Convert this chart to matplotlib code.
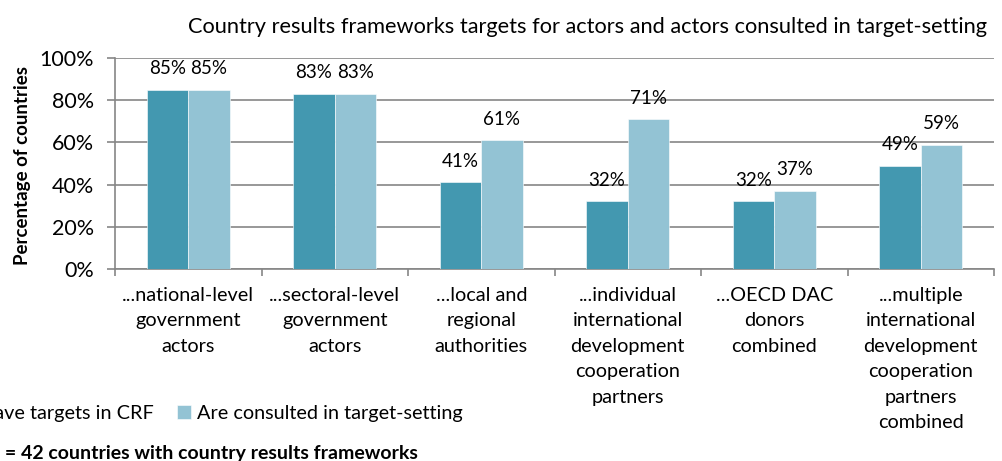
import numpy as np
import matplotlib
matplotlib.use("Agg")
import matplotlib.pyplot as plt
from matplotlib.ticker import FixedLocator, PercentFormatter

plt.rcParams['font.family'] = ['Lato', 'DejaVu Sans']

categories = [
    "...national-level\ngovernment\nactors",
    "...sectoral-level\ngovernment\nactors",
    "...local and\nregional\nauthorities",
    "...individual\ninternational\ndevelopment\ncooperation\npartners",
    "...OECD DAC\ndonors\ncombined",
    "...multiple\ninternational\ndevelopment\ncooperation\npartners\ncombined",
]
have_targets = [85, 83, 41, 32, 32, 49]
consulted = [85, 83, 61, 71, 37, 59]
series_names = ["Have targets in CRF", "Are consulted in target-setting"]

dark = "#4398b0"
light = "#93c3d4"
grey = "#868686"

fig = plt.figure(figsize=(10.02, 4.61), dpi=100)
ax = fig.add_axes([115 / 1002, 1 - 269 / 461, 879 / 1002, 211 / 461])

x = np.arange(len(categories))
w = 0.283
b1 = ax.bar(x - w / 2, have_targets, w, color=dark, edgecolor="white", linewidth=0.4,
            label=series_names[0], zorder=3)
b2 = ax.bar(x + w / 2, consulted, w, color=light, edgecolor="white", linewidth=0.4,
            label=series_names[1], zorder=3)

for bars, vals in ((b1, have_targets), (b2, consulted)):
    for r, v in zip(bars, vals):
        ax.annotate(f"{v}%", (r.get_x() + r.get_width() / 2, v), xytext=(0, 9),
                    textcoords="offset points", ha="center", va="bottom", fontsize=13.5)

ax.set_xlim(-0.5, len(categories) - 0.5)
ax.set_ylim(0, 100)
ax.yaxis.set_major_locator(FixedLocator([0, 20, 40, 60, 80, 100]))
ax.yaxis.set_major_formatter(PercentFormatter(decimals=0))
ax.grid(axis="y", color=grey, linewidth=1.2, zorder=0)
ax.set_axisbelow(True)

ax.set_xticks(x)
ax.set_xticklabels(categories, fontsize=14.3, linespacing=1.6)
ax.set_xticks(np.arange(-0.5, len(categories)), minor=True)
ax.tick_params(axis="x", which="major", length=0, pad=13)
ax.tick_params(axis="x", which="minor", length=5, color=grey, width=1.2)
ax.tick_params(axis="y", length=6, color=grey, width=1.2, labelsize=15.5, pad=9)

for s in ("top", "right"):
    ax.spines[s].set_visible(False)
for s in ("left", "bottom"):
    ax.spines[s].set_color(grey)
    ax.spines[s].set_linewidth(1.2)

ax.set_ylabel("Percentage of countries", fontsize=13.5, fontweight="bold")
ax.yaxis.set_label_coords(-0.095, 0.49)

fig.text(588 / 1002, 1 - 27 / 461,
         "Country results frameworks targets for actors and actors consulted in target-setting",
         ha="center", va="center", fontsize=15.7)

fig.legend(handles=[b1, b2], labels=series_names, loc="center right",
           bbox_to_anchor=(463 / 1002, 1 - 413 / 461), ncol=2, frameon=False,
           fontsize=14.3, handlelength=0.7, handleheight=0.7, handletextpad=0.3,
           columnspacing=1.2, borderpad=0, borderaxespad=0)

fig.text(418 / 1002, 1 - 453 / 461, "N = 42 countries with country results frameworks",
         ha="right", va="center", fontsize=14, fontweight="bold")

fig.savefig("out.png", dpi=100)
